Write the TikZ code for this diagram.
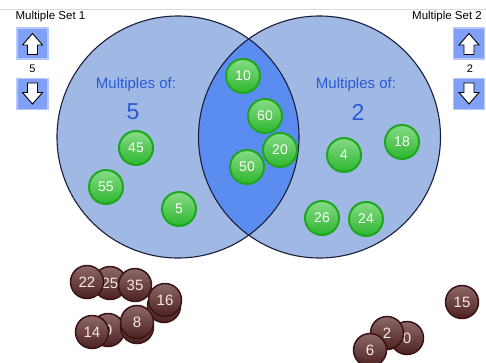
\documentclass[tikz,border=0pt]{standalone}
\usepackage{fontspec}
\setmainfont{Liberation Sans}
\definecolor{setfill}{HTML}{9FB8E4}
\definecolor{lensfill}{HTML}{5B8CF0}
\definecolor{setline}{HTML}{1A1F3A}
\definecolor{labblue}{HTML}{2A5BD7}
\definecolor{btnfill}{HTML}{7FA0F6}
\definecolor{btnline}{HTML}{B4C8FA}
\definecolor{grim}{HTML}{1FA61F}
\definecolor{gtop}{HTML}{86DC86}
\definecolor{gbot}{HTML}{2DB52D}
\definecolor{drim}{HTML}{3A1414}
\definecolor{dtop}{HTML}{8E6868}
\definecolor{dbot}{HTML}{4C2020}
\tikzset{
  setcirc/.style={circle, minimum size=242pt, inner sep=0pt, fill=setfill},
  btn/.style={rectangle, minimum width=31pt, minimum height=31pt, inner sep=0pt, fill=btnfill, draw=btnline, line width=1.2pt},
  arr/.style={fill=white, draw=black, line width=0.9pt, line join=miter},
  gball/.style={circle, minimum size=34pt, inner sep=0pt, draw=grim, line width=2pt, top color=gtop, bottom color=gbot, text=white, font=\fontsize{14}{14}\selectfont},
  dball/.style={circle, minimum size=33pt, inner sep=0pt, draw=drim, line width=1.5pt, top color=dtop, bottom color=dbot, text=white!90!red, font=\fontsize{15}{15}\selectfont},
  title/.style={font=\fontsize{11.5}{12}\selectfont, text=black},
  multlab/.style={font=\fontsize{15}{15}\selectfont, text=labblue},
  bignum/.style={font=\fontsize{23}{23}\selectfont, text=labblue},
  numlab/.style={font=\fontsize{11}{11}\selectfont, text=black}
}

\begin{document}

\begin{tikzpicture}[x=1pt,y=-1pt]
\useasboundingbox (0,0) rectangle (486,362);
\fill[white] (0,0) rectangle (486,362);
\draw[gray!30, line width=0.8pt] (0,9.5) -- (486,9.5);

% sets
\node[setcirc] (A) at (178,137) {};
\node[setcirc] (B) at (319.5,137) {};
\begin{scope}
  \clip (A.center) circle (121pt);
  \fill[lensfill] (B.center) circle (121pt);
\end{scope}
\draw[setline, line width=1.1pt] (A.center) circle (121pt);
\draw[setline, line width=1.1pt] (B.center) circle (121pt);

% titles and buttons
\node[title] (t1) at (50.5,17) {Multiple Set 1};
\node[title] (t2) at (447,17) {Multiple Set 2};
\node[btn] (up1) at (32.5,43.5) {};
\node[numlab] (n1) at (32.5,69) {5};
\node[btn] (dn1) at (32.5,94) {};
\node[btn] (up2) at (469,43.5) {};
\node[numlab] (n2) at (470,69) {2};
\node[btn] (dn2) at (469,94) {};
\foreach \b in {up1,up2}{
  \draw[arr, shift={(\b.center)}] (0,-10) -- (10,1.5) -- (5,1.5) -- (5,11) -- (-5,11) -- (-5,1.5) -- (-10,1.5) -- cycle;
}
\foreach \b in {dn1,dn2}{
  \draw[arr, shift={(\b.center)}] (0,10) -- (10,-1.5) -- (5,-1.5) -- (5,-11) -- (-5,-11) -- (-5,-1.5) -- (-10,-1.5) -- cycle;
}

% set labels
\node[multlab] (mA) at (136,85) {Multiples of:};
\node[bignum] (kA) at (133,112) {5};
\node[multlab] (mB) at (356,85) {Multiples of:};
\node[bignum] (kB) at (358,112) {2};

% green balls
\node[gball] (g45) at (136,148) {45};
\node[gball] (g55) at (106,187) {55};
\node[gball] (g5) at (179,209) {5};
\node[gball] (g10) at (243,76) {10};
\node[gball] (g60) at (265,116) {60};
\node[gball] (g50) at (247,167) {50};
\node[gball] (g20) at (280,150) {20};
\node[gball] (g4) at (344,155) {4};
\node[gball] (g18) at (402,142) {18};
\node[gball] (g26) at (322,218) {26};
\node[gball] (g24) at (366,219) {24};

% dark balls
\node[dball] (d25) at (110,283) {25};
\node[dball] (d22) at (87,282) {22};
\node[dball] (d35) at (135,285) {35};
\node[dball] (dx1) at (164,306) {};
\node[dball] (d16) at (165,300) {16};
\node[dball] (d0a) at (108,330) {0};
\node[dball] (d14) at (92,332) {14};
\node[dball] (dx2) at (137,327) {};
\node[dball] (d8) at (137,322) {8};
\node[dball] (d15) at (462,302) {15};
\node[dball] (d0b) at (407,338) {0};
\node[dball] (d2) at (387,333) {2};
\node[dball] (d6) at (370,350) {6};
\end{tikzpicture}

\end{document}
